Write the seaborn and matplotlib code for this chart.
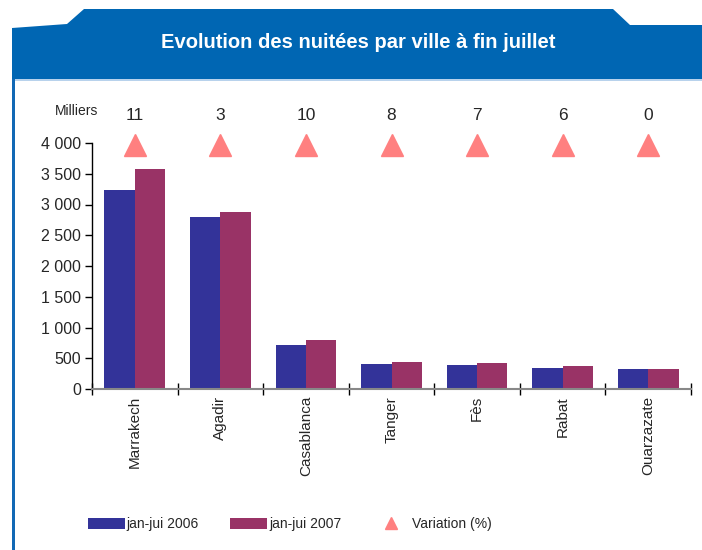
import numpy as np
import pandas as pd
import matplotlib
matplotlib.use("Agg")
import matplotlib.pyplot as plt
import seaborn as sns
from matplotlib.patches import Polygon, Rectangle
from matplotlib.lines import Line2D
from matplotlib.ticker import FuncFormatter

# data (milliers de nuitées)
villes = ['Marrakech', 'Agadir', 'Casablanca', 'Tanger', 'Fès', 'Rabat', 'Ouarzazate']
nuitees_2006 = [3230, 2790, 715, 410, 395, 345, 330]
nuitees_2007 = [3575, 2870, 790, 443, 423, 366, 330]
variation = [11, 3, 10, 8, 7, 6, 0]
periodes = ['jan-jui 2006', 'jan-jui 2007']

W, H = 702, 550


def fx(px):
    return px / W


def fy(py):
    return 1 - py / H


if __name__ == '__main__':
    sns.set_style('white')
    plt.rcParams['font.family'] = ['Liberation Sans', 'DejaVu Sans']

    df = pd.DataFrame({
        'ville': villes * 2,
        'periode': [periodes[0]] * len(villes) + [periodes[1]] * len(villes),
        'nuitees': nuitees_2006 + nuitees_2007,
    })

    fig = plt.figure(figsize=(W / 100, H / 100), dpi=100)
    fig.patch.set_facecolor('white')

    # blue banner with tab + left border
    banner = Polygon([(fx(12), fy(79)), (fx(12), fy(28)), (fx(67), fy(24)), (fx(84), fy(9)),
                      (fx(613), fy(9)), (fx(630), fy(25)), (fx(702), fy(25)), (fx(702), fy(79))],
                     closed=True, transform=fig.transFigure, facecolor='#0066b3', edgecolor='none')
    fig.patches.append(banner)
    fig.patches.append(Rectangle((fx(15), fy(80.5)), fx(702 - 15), 1.5 / H, transform=fig.transFigure,
                                 facecolor='#b8d2ec', edgecolor='none'))
    fig.patches.append(Rectangle((fx(12), 0), 3 / W, fy(79), transform=fig.transFigure,
                                 facecolor='#1168b5', edgecolor='none'))
    fig.text(fx(358), fy(42), 'Evolution des nuitées par ville à fin juillet', color='white',
             fontsize=14.5, fontweight='bold', ha='center', va='center')

    ax = fig.add_axes([fx(92), fy(389), fx(691) - fx(92), fy(143) - fy(389)])
    sns.barplot(data=df, x='ville', y='nuitees', hue='periode', palette=['#333399', '#993366'],
                width=0.71, gap=0, saturation=1, linewidth=0, ax=ax, legend=True)

    ax.set_ylim(0, 4000)
    ax.set_xlim(-0.5, len(villes) - 0.5)
    ax.set_yticks(np.arange(0, 4001, 500))
    ax.yaxis.set_major_formatter(FuncFormatter(lambda v, p: f"{int(v):,}".replace(',', ' ')))
    ax.set_xlabel('')
    ax.set_ylabel('')
    ax.set_xticks(range(len(villes)))
    ax.set_xticklabels(villes, rotation=90, va='top', ha='center')
    ax.set_xticks(np.arange(-0.5, len(villes), 1), minor=True)
    ax.tick_params(axis='x', which='major', bottom=True, length=0, pad=5, labelsize=11)
    ax.tick_params(axis='x', which='minor', bottom=True, length=8, width=1, direction='inout', color='black')
    ax.tick_params(axis='y', which='major', left=True, length=5, width=1, direction='out', color='black',
                   labelsize=11.5, pad=3)
    for s in ['top', 'right']:
        ax.spines[s].set_visible(False)
    ax.spines['left'].set_color('black')
    ax.spines['left'].set_linewidth(1)
    ax.spines['bottom'].set_color('#888888')
    ax.spines['bottom'].set_linewidth(1.5)

    # variation markers and values above the plot
    pos = np.arange(len(villes))
    ax.plot(pos, [0.99] * len(pos), linestyle='none', marker='^', markersize=16,
            color='#ff8080', transform=ax.get_xaxis_transform(), clip_on=False)
    for p, v in zip(pos, variation):
        ax.text(p, 1.11, str(v), transform=ax.get_xaxis_transform(), ha='center', va='center', fontsize=12.5)
    fig.text(fx(77), fy(111), 'Milliers', ha='center', va='center', fontsize=10)

    handles, labels = ax.get_legend_handles_labels()
    ax.get_legend().remove()
    handles = handles[:2] + [Line2D([], [], linestyle='none', marker='^', markersize=9, color='#ff8080')]
    labels = labels[:2] + ['Variation (%)']
    fig.legend(handles, labels, loc='center left', bbox_to_anchor=(fx(88), fy(524)), ncol=3,
               frameon=False, fontsize=10, handlelength=2.65, handleheight=0.85, handletextpad=0.15,
               columnspacing=2.25, borderpad=0, borderaxespad=0)

    plt.savefig('out.png', dpi=100)
